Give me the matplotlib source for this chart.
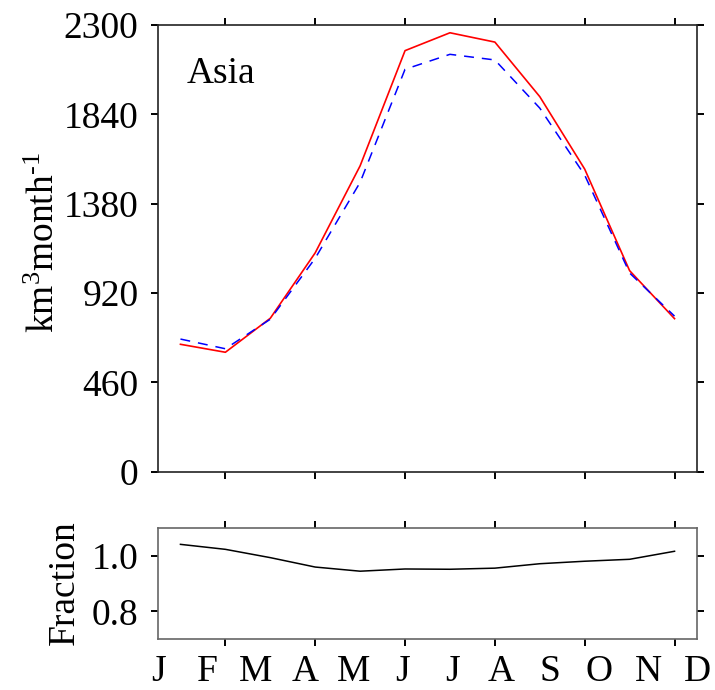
import matplotlib
matplotlib.use("Agg")
import matplotlib.pyplot as plt
import numpy as np

plt.rcParams["font.family"] = ["Liberation Serif", "DejaVu Serif"]
plt.rcParams["mathtext.fontset"] = "custom"
plt.rcParams["mathtext.rm"] = "Liberation Serif"
plt.rcParams["mathtext.it"] = "Liberation Serif:italic"

# Monthly runoff for Asia (km^3 per month)
months = ["J", "F", "M", "A", "M", "J", "J", "A", "S", "O", "N", "D"]
month_index = np.arange(1, 13)
runoff_red = [656, 615, 790, 1127, 1575, 2168, 2260, 2212, 1931, 1558, 1035, 788]
runoff_blue = [683, 633, 785, 1099, 1490, 2072, 2149, 2120, 1872, 1527, 1023, 801]
fraction = [1.042, 1.024, 0.994, 0.960, 0.945, 0.953, 0.952, 0.956, 0.972, 0.981, 0.988, 1.017]

y_ticks = [0, 460, 920, 1380, 1840, 2300]
frac_ticks = [0.8, 1.0]
x_ticks = [2, 4, 6, 8, 10, 12]

FS = 27

W, H = 715, 690
fig = plt.figure(figsize=(W / 100, H / 100), dpi=100)

left, right = 158 / W, 697 / W
ax1 = fig.add_axes([left, 1 - 471.7 / H, right - left, (471.7 - 25) / H])
ax2 = fig.add_axes([left, 1 - 639 / H, right - left, (639 - 528.3) / H])

# Upper panel: two runoff curves
ax1.plot(month_index, runoff_red, color="#ff0000", lw=1.2)
ax1.plot(month_index, runoff_blue, color="#0000ff", lw=1.1, dashes=(6.5, 5.2))
ax1.set_xlim(0.5, 12.5)
ax1.set_ylim(0, 2300)
ax1.set_yticks(y_ticks)
ax1.set_yticklabels([str(v) for v in y_ticks])
ax1.text(0.054, 0.870, "Asia", transform=ax1.transAxes, fontsize=FS,
         ha="left", va="baseline")

# Lower panel: fraction
ax2.plot(month_index, fraction, color="black", lw=1.1)
ax2.set_xlim(0.5, 12.5)
ax2.set_ylim(0.7, 1.1)
ax2.set_yticks(frac_ticks)
ax2.set_yticklabels(["0.8", "1.0"])

for ax, spine_col in ((ax1, "#222222"), (ax2, "#666666")):
    ax.set_xticks(x_ticks)
    ax.set_xticklabels([])
    ax.tick_params(axis="both", which="major", direction="out", length=5,
                   width=1.4, top=True, right=True, labelsize=FS, pad=9,
                   color="black")
    for s in ax.spines.values():
        s.set_color(spine_col)
        s.set_linewidth(1.2)

# Month labels spread evenly under the lower panel
for i, m in enumerate(months):
    ax2.text(i / 11, -0.14, m, transform=ax2.transAxes, fontsize=FS,
             ha="center", va="top")

fig.text(45 / W, 1 - 243 / H, r"km$^{\text{3}}$month$^{\text{-1}}$",
         rotation=90, fontsize=FS, ha="center", va="center")
fig.text(65 / W, 1 - 583 / H, "Fraction", rotation=90, fontsize=FS,
         ha="center", va="center")

fig.savefig("out.png", dpi=100)
